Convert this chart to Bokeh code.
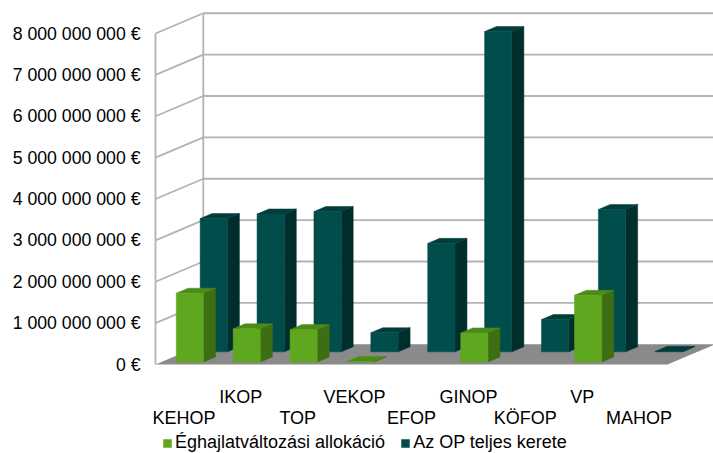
from bokeh.plotting import figure
from bokeh.models import Range1d, FixedTicker, Legend, LegendItem
from bokeh.core.properties import value
from bokeh.embed import file_html
from bokeh.resources import INLINE

# ---------------- data ----------------
categories = ["KEHOP", "IKOP", "TOP", "VEKOP", "EFOP", "GINOP", "KÖFOP", "VP", "MAHOP"]
climate_alloc = [1.66e9, 0.80e9, 0.78e9, 0.01e9, None, 0.70e9, None, 1.61e9, None]
op_total = [3.22e9, 3.33e9, 3.39e9, 0.46e9, 2.62e9, 7.74e9, 0.78e9, 3.44e9, 0.01e9]
series_names = ["Éghajlatváltozási allokáció", "Az OP teljes kerete"]
y_ticks = [0, 1000000000, 2000000000, 3000000000, 4000000000,
           5000000000, 6000000000, 7000000000, 8000000000]
y_tick_labels = ["0 €", "1 000 000 000 €", "2 000 000 000 €", "3 000 000 000 €",
                 "4 000 000 000 €", "5 000 000 000 €", "6 000 000 000 €",
                 "7 000 000 000 €", "8 000 000 000 €"]

# ---------------- layout constants ----------------
FONT = "Liberation Sans"
FS = "18px"
PX_PER_CAT = 56.89
PX_PER_EURO = 41.375 / 1e9
W, H = 713, 453
FRAME_LEFT = 140                 # frame starts left of the wall so labels are not clipped
WALL_LEFT = 155                  # pixel column of the front-left wall edge
TOP = 5
ZERO_PX = 364                    # pixel row of the front zero line
DX = 0.84                        # full depth offset, category units
DY = 0.49e9                      # full depth offset, value units
BAR_W = 0.48
YMAX = y_ticks[-1]
N = len(categories)

GREEN = ("#5ea71f", "#3d6e13", "#4c8b19")   # front, side, top
TEAL = ("#004d4b", "#002e2d", "#003d3b")
GRID = "#b3b3b3"
FLOOR = "#8a8a8a"

x0 = -(WALL_LEFT - FRAME_LEFT) / PX_PER_CAT
p = figure(width=W, height=H,
           x_range=Range1d(x0, x0 + (W - FRAME_LEFT) / PX_PER_CAT),
           y_range=Range1d(-(H - ZERO_PX) / PX_PER_EURO, (ZERO_PX - TOP) / PX_PER_EURO),
           output_backend="svg", toolbar_location=None,
           min_border_left=FRAME_LEFT, min_border_right=0,
           min_border_top=TOP, min_border_bottom=0,
           x_axis_location=None, y_axis_location="left")
p.xgrid.visible = False
p.ygrid.visible = False
p.outline_line_color = None
p.background_fill_color = "white"
p.border_fill_color = "white"

# ---- walls ----
p.patch([0, DX, DX, 0], [0, DY, YMAX + DY, YMAX], fill_color="white", line_color=None)
p.patch([0, N, N + DX, DX], [0, 0, DY, DY], fill_color=FLOOR, line_color=None)
for t in y_ticks[1:]:
    p.line([0, DX, N + DX], [t, t + DY, t + DY], line_color=GRID, line_width=1.8)
p.line([0, 0], [0, YMAX], line_color=GRID, line_width=1.8)
p.line([DX, DX], [DY, YMAX + DY], line_color=GRID, line_width=1.8)


def draw_bars(values, row, colors):
    d_front = row * 0.5 + 0.125
    d_back = row * 0.5 + 0.375
    oxf, oyf = d_front * DX, d_front * DY
    oxb, oyb = d_back * DX, d_back * DY
    L, R, B, T = [], [], [], []
    sx, sy, tx, ty = [], [], [], []
    for i, v in enumerate(values):
        if v is None:
            continue
        xl = i + 0.5 - BAR_W / 2
        xr = i + 0.5 + BAR_W / 2
        L.append(xl + oxf); R.append(xr + oxf); B.append(oyf); T.append(v + oyf)
        sx.append([xr + oxf, xr + oxb, xr + oxb, xr + oxf])
        sy.append([oyf, oyb, v + oyb, v + oyf])
        tx.append([xl + oxf, xr + oxf, xr + oxb, xl + oxb])
        ty.append([v + oyf, v + oyf, v + oyb, v + oyb])
    p.patches(sx, sy, fill_color=colors[1], line_color=colors[1], line_width=0.5)
    p.patches(tx, ty, fill_color=colors[2], line_color=colors[2], line_width=0.5)
    return p.quad(left=L, right=R, bottom=B, top=T, fill_color=colors[0],
                  line_color=colors[0], line_width=0.5)


r_teal = draw_bars(op_total, 1, TEAL)
r_green = draw_bars(climate_alloc, 0, GREEN)

# ---- y axis ----
yax = p.yaxis[0]
yax.ticker = FixedTicker(ticks=y_ticks)
yax.major_label_overrides = dict(zip(y_ticks, y_tick_labels))
yax.axis_line_color = None
yax.major_tick_line_color = None
yax.minor_tick_line_color = None
yax.major_tick_out = 0
yax.major_tick_in = 0
yax.major_label_standoff = 0
yax.major_label_text_font = FONT
yax.major_label_text_font_size = "17.7px"
yax.major_label_text_color = "black"

# ---- category labels (two staggered rows) ----
upper_off = -32 / PX_PER_EURO     # baseline of upper row, below front zero line
lower_off = -53 / PX_PER_EURO     # baseline of lower row
lab_x = [i + 0.5 for i in range(N)]
lab_y = [upper_off if i % 2 == 1 else lower_off for i in range(N)]
p.text(x=lab_x, y=lab_y, text=categories, text_align="center",
       text_baseline="alphabetic", text_font=value(FONT), text_font_size=FS,
       text_color="black")

# ---- legend ----
legend = Legend(items=[LegendItem(label=series_names[0], renderers=[r_green]),
                       LegendItem(label=series_names[1], renderers=[r_teal])],
                orientation="horizontal", location=(162 - FRAME_LEFT, 0),
                border_line_color=None, background_fill_alpha=0,
                glyph_width=10, glyph_height=10, label_standoff=3,
                label_height=18, spacing=15, padding=0, margin=0,
                label_text_font=FONT, label_text_font_size=FS,
                label_text_color="black")
p.add_layout(legend, "center")

open("out.html", "w").write(file_html(p, INLINE))
